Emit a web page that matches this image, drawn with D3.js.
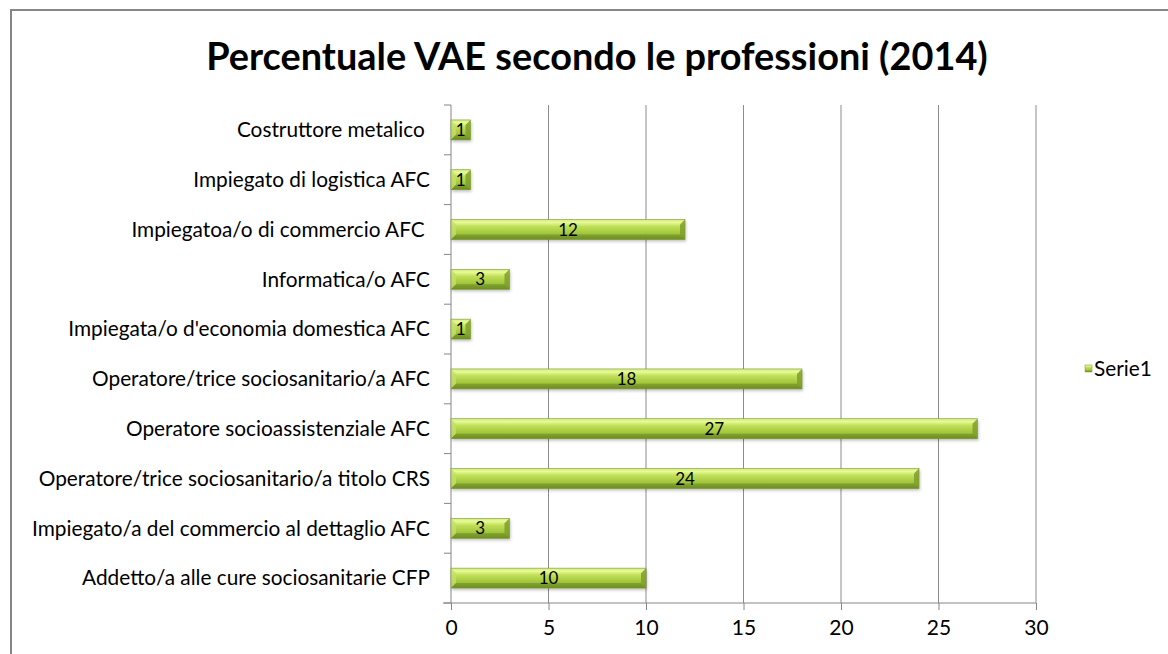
<!DOCTYPE html>
<html>
<head>
<meta charset="utf-8">
<script src="https://cdn.jsdelivr.net/npm/d3@7"></script>
<style>
  body { margin: 0; background: #fff; }
  text { font-family: Lato, "Open Sans", sans-serif; }
</style>
</head>
<body>
<svg id="chart"></svg>
<script>
const categories = [
  'Costruttore metalico ',
  'Impiegato di logistica AFC',
  'Impiegatoa/o di commercio AFC ',
  'Informatica/o AFC',
  "Impiegata/o d'economia domestica AFC",
  'Operatore/trice sociosanitario/a AFC',
  'Operatore socioassistenziale AFC',
  'Operatore/trice sociosanitario/a titolo CRS',
  'Impiegato/a del commercio al dettaglio AFC',
  'Addetto/a alle cure sociosanitarie CFP'
];
const values = [1, 1, 12, 3, 1, 18, 27, 24, 3, 10];
const xTicks = [0, 5, 10, 15, 20, 25, 30];
const seriesName = 'Serie1';
const title = 'Percentuale VAE secondo le professioni (2014)';

const width = 1168;
const height = 654;
const plot = {left: 451, right: 1036, top: 105, bottom: 603};

const svg = d3.select('#chart')
  .attr('width', width)
  .attr('height', height);

// chart frame (only top/left visible in crop)
svg.append('rect')
  .attr('x', 11).attr('y', 10)
  .attr('width', width + 20).attr('height', height + 20)
  .attr('fill', '#fff')
  .attr('stroke', '#868686')
  .attr('stroke-width', 2);

const defs = svg.append('defs');
const grad = defs.append('linearGradient')
  .attr('id', 'barGrad')
  .attr('x1', 0).attr('y1', 0).attr('x2', 0).attr('y2', 1);
grad.append('stop').attr('offset', '0%').attr('stop-color', '#d2ea84');
grad.append('stop').attr('offset', '15%').attr('stop-color', '#e8fa94');
grad.append('stop').attr('offset', '35%').attr('stop-color', '#bfdf58');
grad.append('stop').attr('offset', '70%').attr('stop-color', '#a2c63c');
grad.append('stop').attr('offset', '100%').attr('stop-color', '#728f26');

const shadow = defs.append('filter').attr('id', 'shadow')
  .attr('x', '-10%').attr('y', '-30%').attr('width', '130%').attr('height', '180%');
shadow.append('feDropShadow')
  .attr('dx', 1).attr('dy', 2).attr('stdDeviation', 1.5)
  .attr('flood-color', '#000').attr('flood-opacity', 0.25);

const x = d3.scaleLinear()
  .domain([0, 30])
  .range([plot.left, plot.right]);

const y = d3.scaleBand()
  .domain(categories)
  .range([plot.top, plot.bottom])
  .paddingInner(0.6)
  .paddingOuter(0.3);

// gridlines
svg.append('g')
  .selectAll('line')
  .data(xTicks.slice(1))
  .join('line')
  .attr('x1', d => x(d)).attr('x2', d => x(d))
  .attr('y1', plot.top).attr('y2', plot.bottom)
  .attr('stroke', '#8c8c8c')
  .attr('stroke-width', 1);

// x axis
const xAxis = svg.append('g')
  .attr('transform', `translate(0, ${plot.bottom})`)
  .call(d3.axisBottom(x).tickValues(xTicks).tickSize(7).tickPadding(10));
xAxis.select('.domain').remove();
xAxis.append('line')
  .attr('x1', plot.left - 8).attr('x2', plot.right)
  .attr('y1', 0).attr('y2', 0)
  .attr('stroke', '#868686');
xAxis.selectAll('.tick line').attr('stroke', '#868686');
xAxis.selectAll('.tick text')
  .attr('fill', '#000')
  .style('font-size', '21px')
  .style('font-family', 'Lato, "Open Sans", sans-serif');

// y axis: line + ticks at band boundaries
const boundaries = d3.range(categories.length + 1).map(i => plot.top + i * (plot.bottom - plot.top) / categories.length);
const yAxis = svg.append('g');
yAxis.append('line')
  .attr('x1', plot.left).attr('x2', plot.left)
  .attr('y1', plot.top).attr('y2', plot.bottom)
  .attr('stroke', '#868686');
yAxis.selectAll('.ytick')
  .data(boundaries)
  .join('line')
  .attr('class', 'ytick')
  .attr('x1', plot.left - 7).attr('x2', plot.left)
  .attr('y1', d => d).attr('y2', d => d)
  .attr('stroke', '#868686');
const labels = yAxis.selectAll('.ylabel')
  .data(categories)
  .join('text')
  .attr('class', 'ylabel')
  .attr('x', 430)
  .attr('y', d => y(d) + y.bandwidth() / 2)
  .attr('dy', '0.35em')
  .attr('text-anchor', 'end')
  .style('white-space', 'pre')
  .style('font-size', '16px')
  .attr('fill', '#000')
  .text(d => d);

// fit label size to the reference width of the last label
const lastW = labels.filter((d, i) => i === categories.length - 1).node().getComputedTextLength();
const labelSize = 16 * 348 / lastW;
labels.style('font-size', labelSize + 'px');

// bars with bevel
const bars = svg.append('g')
  .selectAll('.bar')
  .data(categories.map((c, i) => ({cat: c, value: values[i]})))
  .join('g')
  .attr('class', 'bar')
  .attr('transform', d => `translate(${x(0)}, ${y(d.cat)})`);

const bh = y.bandwidth();
const bev = 5;
bars.append('rect')
  .attr('width', d => x(d.value) - x(0))
  .attr('height', bh)
  .attr('fill', 'url(#barGrad)')
  .attr('filter', 'url(#shadow)');
bars.append('path')
  .attr('d', `M0,0 L${bev},${bev} L${bev},${bh - bev} L0,${bh} Z`)
  .attr('fill', '#c4df6a')
  .attr('opacity', 0.8);
bars.append('path')
  .attr('d', d => {
    const w = x(d.value) - x(0);
    return `M${w},0 L${w - bev},${bev} L${w - bev},${bh - bev} L${w},${bh} Z`;
  })
  .attr('fill', '#7f9f2c')
  .attr('opacity', 0.85);
bars.append('path')
  .attr('d', d => {
    const w = x(d.value) - x(0);
    return `M0,${bh} L${bev},${bh - bev} L${w - bev},${bh - bev} L${w},${bh} Z`;
  })
  .attr('fill', '#6a8a22')
  .attr('opacity', 0.5);
bars.append('rect')
  .attr('width', d => x(d.value) - x(0))
  .attr('height', bh)
  .attr('fill', 'none')
  .attr('stroke', '#7a9a2e')
  .attr('stroke-width', 0.6);

bars.append('text')
  .attr('x', d => (x(d.value) - x(0)) / 2)
  .attr('y', bh / 2)
  .attr('dy', '0.36em')
  .attr('text-anchor', 'middle')
  .style('font-size', '17px')
  .attr('fill', '#000')
  .text(d => d.value);

// title
const titleText = svg.append('text')
  .attr('x', 597)
  .attr('y', 70)
  .attr('text-anchor', 'middle')
  .style('font-size', '32px')
  .style('font-weight', 'bold')
  .attr('fill', '#000')
  .text(title);
const tw = titleText.node().getComputedTextLength();
titleText.style('font-size', (32 * 782 / tw) + 'px');

// legend
const legend = svg.append('g').attr('transform', 'translate(1085, 365)');
legend.append('rect')
  .attr('width', 7).attr('height', 7)
  .attr('fill', 'url(#barGrad)')
  .attr('stroke', '#7a9a2e')
  .attr('stroke-width', 0.5);
legend.append('text')
  .attr('x', 9)
  .attr('y', 4)
  .attr('dy', '0.35em')
  .style('font-size', labelSize + 'px')
  .attr('fill', '#000')
  .text(seriesName);
</script>
</body>
</html>
